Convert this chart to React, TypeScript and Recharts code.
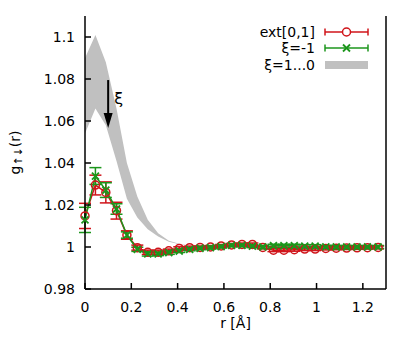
import { ComposedChart, Line, Area, XAxis, YAxis, ErrorBar, ReferenceLine } from 'recharts';

// r grid (Å)
const rValues = [0, 0.045, 0.09, 0.136, 0.181, 0.226, 0.271, 0.316, 0.362, 0.407, 0.452, 0.497, 0.542, 0.588, 0.633, 0.678, 0.723, 0.768, 0.814, 0.859, 0.904, 0.949, 0.994, 1.04, 1.085, 1.13, 1.175, 1.22, 1.266];

// ext[0,1]
const extValues = [1.0148, 1.0295, 1.026, 1.0173, 1.0057, 0.9997, 0.9975, 0.9975, 0.9982, 0.9993, 0.9997, 0.9998, 1.0, 1.0005, 1.001, 1.0012, 1.0012, 0.9998, 0.9985, 0.9985, 0.9987, 0.999, 0.999, 0.9993, 0.9994, 0.9995, 0.9996, 0.9997, 0.9998];
const extErr = [0.006, 0.0047, 0.005, 0.004, 0.002, 0.0012, 0.001, 0.001, 0.0008, 0.0008, 0.0007, 0.0007, 0.0007, 0.0007, 0.0007, 0.0007, 0.0007, 0.0007, 0.0007, 0.0007, 0.0007, 0.0007, 0.0007, 0.0007, 0.0007, 0.0007, 0.0007, 0.0007, 0.0007];

// xi = -1
const xiMinusValues = [1.0129, 1.0338, 1.0271, 1.0181, 1.0057, 0.9989, 0.9967, 0.9967, 0.9973, 0.9981, 0.9989, 0.9994, 0.9997, 1.0002, 1.0008, 1.0008, 1.0004, 1.0, 1.0006, 1.0006, 1.0006, 1.0004, 1.0004, 1.0001, 1.0, 1.0, 1.0, 1.0, 1.0];
const xiMinusErr = [0.006, 0.004, 0.0035, 0.0025, 0.0015, 0.001, 0.001, 0.0008, 0.0008, 0.0007, 0.0007, 0.0007, 0.0007, 0.0007, 0.0007, 0.0007, 0.0007, 0.0007, 0.0007, 0.0007, 0.0007, 0.0007, 0.0007, 0.0007, 0.0007, 0.0007, 0.0007, 0.0007, 0.0007];

// xi = 1...0 band
const bandLow = [1.054, 1.066, 1.058, 1.041, 1.023, 1.014, 1.0085, 1.005, 1.0025, 1.0013, 1.0006, 1.0002, 1.0, 1.0, 1.0, 1.0, 1.0, 1.0, 1.0, 1.0, 1.0, 1.0, 1.0, 1.0, 1.0, 1.0, 1.0, 1.0, 1.0];
const bandHigh = [1.09, 1.101, 1.088, 1.066, 1.04, 1.024, 1.013, 1.0065, 1.003, 1.0015, 1.0007, 1.0004, 1.0003, 1.0003, 1.0003, 1.0003, 1.0003, 1.0003, 1.0003, 1.0003, 1.0003, 1.0003, 1.0003, 1.0003, 1.0003, 1.0003, 1.0003, 1.0003, 1.0003];

const xTicks = [0, 0.2, 0.4, 0.6, 0.8, 1, 1.2];
const yTicks = [0.98, 1, 1.02, 1.04, 1.06, 1.08, 1.1];
const legendNames = ['ext[0,1]', 'ξ=-1', 'ξ=1...0'];

const RED = '#d0141a';
const GREEN = '#1c961c';
const GREY = '#c0c0c0';
const FONT = 'DejaVu Sans, sans-serif';

const data = rValues.map((r, i) => ({
  r,
  ext: extValues[i],
  extErr: extErr[i],
  xim: xiMinusValues[i],
  ximErr: xiMinusErr[i],
  band: [bandLow[i], bandHigh[i]],
}));

const CircleDot = (p: any) => (
  <circle key={`c${p.index}`} cx={p.cx} cy={p.cy} r={4} fill="none" stroke={RED} strokeWidth={1.5} />
);

const CrossDot = (p: any) => (
  <g key={`x${p.index}`} stroke={GREEN} strokeWidth={1.8}>
    <line x1={p.cx - 3.5} y1={p.cy - 3.5} x2={p.cx + 3.5} y2={p.cy + 3.5} />
    <line x1={p.cx - 3.5} y1={p.cy + 3.5} x2={p.cx + 3.5} y2={p.cy - 3.5} />
  </g>
);

const XiArrow = (p: any) => (
  <g>
    <line x1={p.x1} y1={p.y1} x2={p.x2} y2={p.y2 - 13} stroke="#000" strokeWidth={2} />
    <polygon points={`${p.x2 - 4.5},${p.y2 - 15} ${p.x2 + 4.5},${p.y2 - 15} ${p.x2},${p.y2}`} fill="#000" />
    <text x={p.x1 + 6} y={p.y1 + 18} fontSize={16} fontFamily={FONT} dominantBaseline="central">ξ</text>
  </g>
);

const YTitle = (p: any) => {
  const vb = p.viewBox;
  const x = vb.x - 20;
  const y = vb.y + vb.height / 2;
  return (
    <text x={x} y={y} transform={`rotate(-90 ${x} ${y})`} textAnchor="middle" dominantBaseline="central"
      fontSize={14} fontFamily={FONT} fill="#000">
      g<tspan fontSize={11} dy={3}>↑↓</tspan><tspan dy={-3}>(r)</tspan>
    </text>
  );
};

const XTitle = (p: any) => {
  const vb = p.viewBox;
  return (
    <text x={vb.x + vb.width / 2} y={vb.y + 34} textAnchor="middle" dominantBaseline="central"
      fontSize={14} fontFamily={FONT} fill="#000">r [Å]</text>
  );
};

function LegendBox() {
  const rows = [17, 33, 50];
  return (
    <svg width={160} height={60} style={{ position: 'absolute', left: 222, top: 7 }}>
      {legendNames.map((n, i) => (
        <text key={n} x={85} y={rows[i]} textAnchor="end" dominantBaseline="central" fontSize={14} fontFamily={FONT} fill="#000">{n}</text>
      ))}
      <g stroke={RED} strokeWidth={1.5}>
        <line x1={95} y1={rows[0]} x2={138} y2={rows[0]} />
        <line x1={95} y1={rows[0] - 3.5} x2={95} y2={rows[0] + 3.5} />
        <line x1={138} y1={rows[0] - 3.5} x2={138} y2={rows[0] + 3.5} />
        <circle cx={116.5} cy={rows[0]} r={4} fill="#fff" />
      </g>
      <g stroke={GREEN} strokeWidth={1.5}>
        <line x1={95} y1={rows[1]} x2={138} y2={rows[1]} />
        <line x1={95} y1={rows[1] - 3.5} x2={95} y2={rows[1] + 3.5} />
        <line x1={138} y1={rows[1] - 3.5} x2={138} y2={rows[1] + 3.5} />
        <line x1={113} y1={rows[1] - 3.5} x2={120} y2={rows[1] + 3.5} strokeWidth={1.8} />
        <line x1={113} y1={rows[1] + 3.5} x2={120} y2={rows[1] - 3.5} strokeWidth={1.8} />
      </g>
      <rect x={95} y={rows[2] - 4} width={43} height={8} fill={GREY} />
    </svg>
  );
}

export default function App() {
  const tickStyle = { fontSize: 14, fontFamily: FONT, fill: '#000' };
  const axisLine = { stroke: '#000', strokeWidth: 1.5 };
  return (
    <div style={{ position: 'relative', width: 406, height: 335 }}>
      <ComposedChart width={406} height={335} data={data} margin={{ top: 8, right: 27, bottom: 14, left: 27 }}>
        <XAxis xAxisId="x" dataKey="r" type="number" domain={[0, 1.3]} ticks={xTicks} tick={tickStyle}
          tickSize={-6} tickMargin={19} axisLine={axisLine} tickLine={axisLine} height={40}
          label={{ content: XTitle }} />
        <XAxis xAxisId="xt" dataKey="r" type="number" domain={[0, 1.3]} ticks={xTicks} orientation="top"
          tickFormatter={() => ''} tickSize={-6} axisLine={axisLine} tickLine={axisLine} height={0} />
        <YAxis yAxisId="y" type="number" domain={[0.98, 1.11]} ticks={yTicks} tick={tickStyle}
          tickSize={-6} tickMargin={16} axisLine={axisLine} tickLine={axisLine} width={50}
          label={{ content: YTitle }} />
        <YAxis yAxisId="yr" type="number" domain={[0.98, 1.11]} ticks={yTicks} orientation="right"
          tickFormatter={() => ''} tickSize={-6} axisLine={axisLine} tickLine={axisLine} width={1} />
        <Area xAxisId="x" yAxisId="y" type="linear" dataKey="band" fill={GREY} fillOpacity={1} stroke="none"
          isAnimationActive={false} />
        <ReferenceLine xAxisId="x" yAxisId="y" segment={[{ x: 0.1, y: 1.0795 }, { x: 0.1, y: 1.0567 }]}
          shape={XiArrow} />
        <Line xAxisId="x" yAxisId="y" type="linear" dataKey="ext" stroke={RED} strokeWidth={1.5}
          dot={CircleDot} activeDot={false} isAnimationActive={false}>
          <ErrorBar dataKey="extErr" direction="y" width={6} stroke={RED} strokeWidth={1.5} />
        </Line>
        <Line xAxisId="x" yAxisId="y" type="linear" dataKey="xim" stroke={GREEN} strokeWidth={1.5}
          dot={CrossDot} activeDot={false} isAnimationActive={false}>
          <ErrorBar dataKey="ximErr" direction="y" width={6} stroke={GREEN} strokeWidth={1.5} />
        </Line>
      </ComposedChart>
      <LegendBox />
    </div>
  );
}
